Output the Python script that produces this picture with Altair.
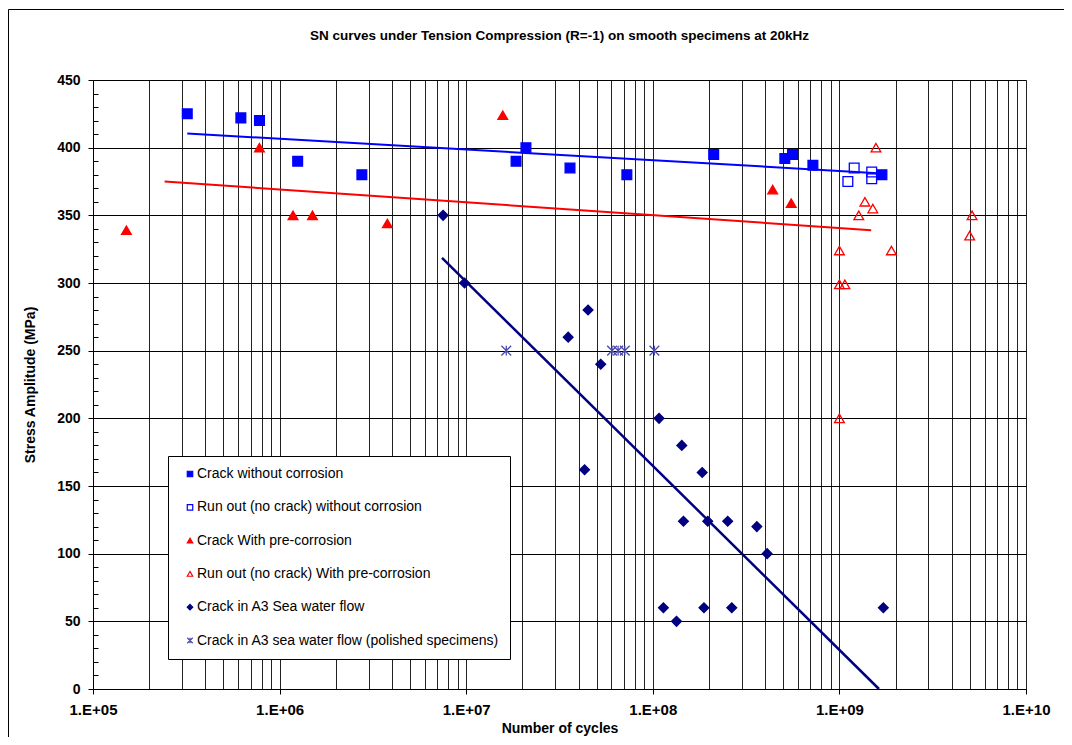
import altair as alt
import pandas as pd

FONT = "Liberation Sans"
BLUE = "#0000FF"
RED = "#FF0000"
NAVY = "#000080"
AST = "#4b4bab"
AST_PATH = "M-1,-1L1,1M-1,1L1,-1M0,-1L0,1"

SERIES = [
    "Crack without corrosion",
    "Run out (no crack) without corrosion",
    "Crack With pre-corrosion",
    "Run out (no crack) With pre-corrosion",
    "Crack in A3 Sea water flow",
    "Crack in A3 sea water flow (polished specimens)",
]

# --- data (cycles, stress amplitude MPa) ---
crack_nc_N = [3.2e5, 6.2e5, 7.8e5, 1.25e6, 2.76e6, 1.85e7, 2.09e7, 3.6e7, 7.26e7,
              2.12e8, 5.1e8, 5.61e8, 7.21e8, 1.69e9]
crack_nc_S = [425, 422, 420, 390, 380, 390, 400, 385, 380, 395, 392, 395, 387, 380]

runout_nc_N = [1.11e9, 1.2e9, 1.49e9, 1.49e9]
runout_nc_S = [375, 385, 382, 377]

crack_pc_N = [1.51e5, 7.8e5, 1.18e6, 1.5e6, 3.78e6, 1.57e7, 4.39e8, 5.52e8]
crack_pc_S = [339, 400, 350, 350, 344, 424, 369, 359]

runout_pc_N = [1.57e9, 1.37e9, 1.51e9, 1.27e9, 1.0e9, 1.9e9, 1.0e9, 1.07e9,
               5.14e9, 4.99e9, 1.0e9]
runout_pc_S = [400, 360, 355, 350, 324, 324, 299, 299, 350, 335, 200]

sea_N = [7.52e6, 9.8e6, 3.52e7, 4.5e7, 5.26e7, 4.31e7, 1.08e8, 1.43e8, 1.84e8,
         1.46e8, 1.97e8, 2.52e8, 3.61e8, 4.1e8, 1.14e8, 1.34e8, 1.88e8, 2.65e8, 1.72e9]
sea_S = [350, 300, 260, 280, 240, 162, 200, 180, 160, 124, 124, 124, 120, 100,
         60, 50, 60, 60, 60]

polished_N = [1.64e7, 6.05e7, 6.52e7, 7.08e7, 1.02e8]
polished_S = [250, 250, 250, 250, 250]

# trend lines (end points)
fit_nc_N = [3.2e5, 1.69e9]
fit_nc_S = [410.5, 381]
fit_pc_N = [2.42e5, 1.48e9]
fit_pc_S = [375, 339]
fit_sea_N = [7.42e6, 1.63e9]
fit_sea_S = [318.6, 0]

# axis ticks
x_tick_values = [m * 10 ** e for e in range(5, 10) for m in range(1, 10)] + [1e10]
y_tick_values = list(range(0, 451, 50))
y_minor_values = [v for v in range(10, 450, 10) if v % 50]

groups = [
    (SERIES[0], crack_nc_N, crack_nc_S),
    (SERIES[1], runout_nc_N, runout_nc_S),
    (SERIES[2], crack_pc_N, crack_pc_S),
    (SERIES[3], runout_pc_N, runout_pc_S),
    (SERIES[4], sea_N, sea_S),
    (SERIES[5], polished_N, polished_S),
]
rows = []
for name, ns, ss in groups:
    for n, s in zip(ns, ss):
        rows.append({"series": name, "N": n, "S": s})
points = pd.DataFrame(rows)

x_scale = alt.Scale(type="log", domain=[1e5, 1e10], nice=False)
y_scale = alt.Scale(domain=[0, 450], nice=False)

DEC = "abs(log(datum.value)/LN10 - round(log(datum.value)/LN10)) < 0.001"
x_axis = alt.Axis(
    values=x_tick_values,
    title="Number of cycles",
    labelExpr=f"({DEC}) ? '1.E+' + (round(log(datum.value)/LN10) < 10 ? '0' : '') + round(log(datum.value)/LN10) : ''",
    grid=True, gridColor="#222222", gridWidth=1, gridOpacity=1,
    domainColor="black", domainWidth=1,
    tickColor="black", tickSize=5,
    tickOpacity={"condition": {"test": DEC, "value": 1}, "value": 0},
    labelFont=FONT, labelFontSize=15, labelFontWeight="bold", labelColor="black",
    labelPadding=8, labelFlush=False, labelOverlap=False,
    titleFont=FONT, titleFontSize=14, titleFontWeight="bold", titleColor="black",
    titlePadding=4,
)
y_axis = alt.Axis(
    values=y_tick_values, orient="left",
    title="Stress Amplitude (MPa)",
    grid=True, gridColor="black", gridWidth=1, gridOpacity=1,
    domainColor="black", domainWidth=1,
    tickColor="black", tickSize=5,
    labelFont=FONT, labelFontSize=14, labelFontWeight="bold", labelColor="black",
    labelPadding=8,
    titleFont=FONT, titleFontSize=14, titleFontWeight="bold", titleColor="black",
    titlePadding=19,
)
y_minor_axis = alt.Axis(
    values=y_minor_values, orient="left", offset=-5, tickSize=5, tickColor="black",
    labels=False, domain=False, grid=False, title=None,
)

legend = alt.Legend(
    title=None, orient="none", legendX=75, legendY=376,
    padding=11, strokeColor="black", fillColor="white", cornerRadius=0,
    labelFont=FONT, labelFontSize=14, labelColor="black", labelLimit=500,
    labelOffset=0, symbolSize=30, symbolStrokeWidth=1.2, symbolOffset=4,
    rowPadding=19.3,
)

pts = alt.Chart(points).mark_point(filled=True, opacity=1, strokeWidth=1.3, size=95).encode(
    x=alt.X("N:Q", scale=x_scale, axis=x_axis),
    y=alt.Y("S:Q", scale=y_scale, axis=y_axis),
    fill=alt.Fill("series:N", scale=alt.Scale(domain=SERIES, range=[BLUE, "transparent", RED, "transparent", NAVY, "transparent"]), legend=legend),
    stroke=alt.Stroke("series:N", scale=alt.Scale(domain=SERIES, range=[BLUE, BLUE, RED, RED, NAVY, AST])),
    shape=alt.Shape("series:N", scale=alt.Scale(domain=SERIES, range=["square", "square", "triangle-up", "triangle-up", "diamond", AST_PATH])),
)


def fit_line(ns, ss, color, width, yaxis=None):
    df = pd.DataFrame({"N": ns, "S": ss})
    return alt.Chart(df).mark_line(color=color, strokeWidth=width).encode(
        x=alt.X("N:Q", scale=x_scale, axis=x_axis),
        y=alt.Y("S:Q", scale=y_scale, axis=yaxis),
    )


line_nc = fit_line(fit_nc_N, fit_nc_S, BLUE, 2)
line_pc = fit_line(fit_pc_N, fit_pc_S, RED, 2)
line_sea = fit_line(fit_sea_N, fit_sea_S, NAVY, 2.5, y_minor_axis)

frame = alt.Chart(pd.DataFrame({"k": [0]})).mark_rect(
    fill="transparent", stroke="black", strokeWidth=1
).encode(
    x=alt.value(-84.5), x2=alt.value(1200), y=alt.value(-70.5), y2=alt.value(900)
)

chart = alt.layer(frame, line_nc, line_pc, line_sea, pts).resolve_axis(
    y="independent"
).properties(
    width=933, height=609,
    autosize="none",
    padding={"left": 85, "top": 72, "right": 38, "bottom": 48},
    title=alt.TitleParams(
        "SN curves under Tension Compression (R=-1) on smooth specimens at 20kHz",
        font=FONT, fontSize=13.5, fontWeight="bold", color="black",
        anchor="middle", frame="group", baseline="bottom", offset=-47,
    ),
).configure_view(stroke="#555555", strokeWidth=1).configure(background="white")

chart.save("out.html", embed_options={"renderer": "svg", "actions": False})
